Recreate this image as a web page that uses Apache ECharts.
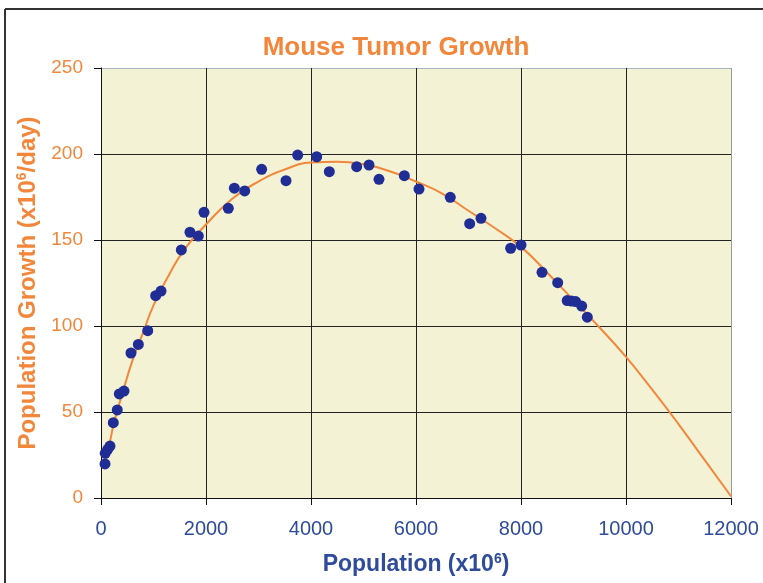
<!DOCTYPE html>
<html>
<head>
<meta charset="utf-8">
<script src="https://cdn.jsdelivr.net/npm/echarts@6/dist/echarts.min.js"></script>
<style>
  html, body { margin: 0; padding: 0; background: #ffffff; }
  #chart { width: 763px; height: 583px; }
</style>
</head>
<body>
<div id="chart"></div>
<script>
// Observed data points (population x10^6, growth x10^6/day)
var popX = [76, 80, 128, 171, 234, 310, 349, 438, 571, 711, 890, 1041, 1143, 1530, 1695, 1854, 1962, 2425, 2540, 2737, 3060, 3524, 3746, 4108, 4349, 4870, 5105, 5295, 5778, 6057, 6653, 7022, 7238, 7803, 8000, 8400, 8699, 8880, 8960, 9040, 9156, 9263];
var popY = [19.8, 26, 28.3, 30.2, 43.8, 51.2, 60.5, 62.2, 84.3, 89.3, 97.3, 117.6, 120.3, 144.2, 154.5, 152.3, 166.1, 168.4, 180.1, 178.5, 191.1, 184.5, 199.4, 198.4, 189.7, 192.6, 193.6, 185.3, 187.4, 179.6, 174.8, 159.5, 162.6, 145.2, 147.1, 131.2, 125.2, 114.8, 114.5, 114.2, 111.6, 105.1];

// Fitted curve
var fitX = [60, 150, 250, 400, 600, 800, 1000, 1300, 1600, 2000, 2500, 3000, 3500, 4000, 4500, 5000, 5500, 6000, 6500, 7000, 7500, 8000, 8500, 9000, 9500, 10000, 10500, 11000, 11500, 12000];
var fitY = [20, 30, 44, 60, 80, 96, 112, 130, 145, 159, 174, 184, 191, 195, 195.5, 194, 190, 184, 177, 167, 157, 146, 131, 115, 99, 82, 63, 43, 22, 1];

var titleText = 'Mouse Tumor Growth';
var xName = '{m|Population (x10}{s|6}{m|)}';
var yName = '{m|Population Growth (x10}{s|6}{m|/day)}';

var orange = '#f2873b';
var blue = '#2f4b9b';
var dot = '#1f2d94';
var ff = 'Liberation Sans, Arial, sans-serif';

function zip(a, b) { return a.map(function (v, i) { return [v, b[i]]; }); }

var chart = echarts.init(document.getElementById('chart'), null, { renderer: 'canvas' });
chart.setOption({
  backgroundColor: '#ffffff',
  animation: false,
  title: {
    text: titleText,
    left: 391,
    textAlign: 'center',
    top: 30,
    textStyle: { color: orange, fontSize: 26, fontWeight: 'bold', fontFamily: ff }
  },
  graphic: [
    { type: 'line', shape: { x1: 5, y1: 9, x2: 763, y2: 9 }, style: { stroke: '#333', lineWidth: 2 } },
    { type: 'line', shape: { x1: 5, y1: 9, x2: 5, y2: 583 }, style: { stroke: '#333', lineWidth: 2 } }
  ],
  grid: {
    left: 101, right: 32, top: 68, bottom: 85,
    show: true, backgroundColor: '#f3f2d5', borderWidth: 0
  },
  xAxis: {
    type: 'value', min: 0, max: 12000, interval: 2000,
    name: xName, nameLocation: 'middle', nameGap: 54,
    nameTextStyle: {
      color: blue, fontSize: 23, fontWeight: 'bold', fontFamily: ff,
      rich: {
        m: { fontSize: 23, fontWeight: 'bold', color: blue, verticalAlign: 'middle', fontFamily: ff },
        s: { fontSize: 14, fontWeight: 'bold', color: blue, verticalAlign: 'bottom', padding: [0, 0, 12, 0], fontFamily: ff }
      }
    },
    axisLine: { show: true, lineStyle: { color: '#111', width: 1 } },
    axisTick: { show: true, length: 7, lineStyle: { color: '#111' } },
    axisLabel: { color: blue, fontSize: 20, margin: 21, fontFamily: ff, formatter: function (v) { return String(v); } },
    splitLine: { show: true, lineStyle: { color: ['#222', '#222', '#222', '#222', '#222', '#222', '#9a9a9a'], width: 1 } }
  },
  yAxis: {
    type: 'value', min: 0, max: 250, interval: 50,
    name: yName, nameLocation: 'middle', nameGap: 52, nameRotate: 90,
    nameTextStyle: {
      color: orange, fontSize: 24, fontWeight: 'bold', fontFamily: ff,
      rich: {
        m: { fontSize: 24, fontWeight: 'bold', color: orange, verticalAlign: 'middle', fontFamily: ff },
        s: { fontSize: 14, fontWeight: 'bold', color: orange, verticalAlign: 'bottom', padding: [0, 0, 12, 0], fontFamily: ff }
      }
    },
    axisLine: { show: true, lineStyle: { color: '#111', width: 1 } },
    axisTick: { show: true, length: 7, lineStyle: { color: '#111' } },
    axisLabel: { color: orange, fontSize: 19, margin: 18, fontFamily: ff },
    splitLine: { show: true, lineStyle: { color: ['#222', '#222', '#222', '#222', '#222', '#a8b6c4'], width: 1 } }
  },
  series: [
    {
      type: 'line', data: zip(fitX, fitY), smooth: true, showSymbol: false,
      lineStyle: { color: orange, width: 2 }, z: 2
    },
    {
      type: 'scatter', data: zip(popX, popY), symbol: 'circle', symbolSize: 11,
      itemStyle: { color: dot, opacity: 1 }, z: 3
    }
  ]
});
</script>
</body>
</html>
